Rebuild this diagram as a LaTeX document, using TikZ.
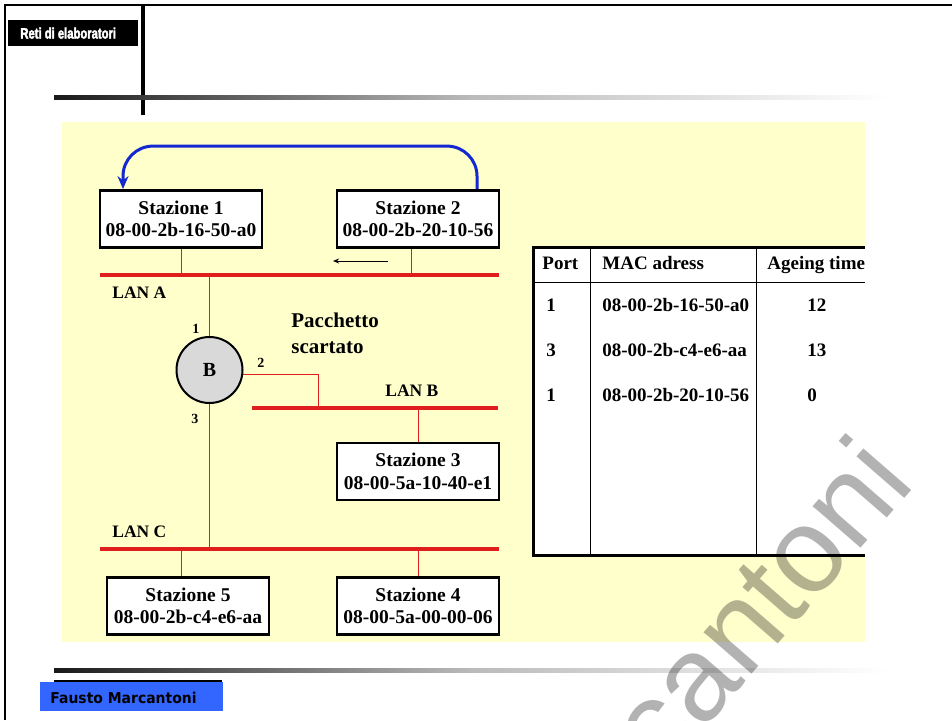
\documentclass[tikz,border=0pt]{standalone}
\usepackage{fontspec}
\setmainfont{Liberation Serif}
\newfontfamily\headfont[FakeStretch=0.75,FakeBold=2.5]{Liberation Sans}
\newfontfamily\footfont[FakeStretch=0.93]{DejaVu Sans}
\newfontfamily\markfont{Liberation Sans}
\usetikzlibrary{arrows.meta}
\definecolor{panel}{RGB}{255,255,204}
\definecolor{lanred}{RGB}{225,30,30}
\definecolor{loopblue}{RGB}{20,40,210}
\definecolor{footblue}{RGB}{51,102,255}

\begin{document}
\begin{tikzpicture}[x=1pt,y=-1pt,line width=0.8pt,
  station/.style={draw,line width=2.8pt,fill=white,minimum width=162pt,
        minimum height=57pt,inner sep=0pt,align=center,
        font=\fontsize{19.5}{22.5}\selectfont\bfseries},
  lan/.style={draw=lanred,line width=3.2pt},
  tap/.style={draw=lanred,line width=0.9pt},
  lbl/.style={anchor=base west,inner sep=0pt,font=\fontsize{17.5}{18}\selectfont\bfseries},
  cell/.style={anchor=base west,inner sep=0pt,font=\fontsize{19}{19}\selectfont\bfseries},
  fade/.style={left color=black!90,right color=white,middle color=black!27}]
\useasboundingbox (0,0) rectangle (952,720);
% ---- slide frame, header and footer bars ----
\draw[line width=2.6pt] (5,720) -- (5,5) -- (952,5);
\fill (8,20) rectangle (138,46);
\node[anchor=base west,inner sep=0pt,text=white,
      font=\headfont\fontsize{15}{15}\selectfont\bfseries] (title) at (20,38.5) {Reti di elaboratori};
\draw[line width=3.5pt] (143,5) -- (143,115);
\shade[fade] (54,95) rectangle (888,99);
\shade[fade] (54,668) rectangle (888,672);
\draw[line width=2.5pt] (54,681) -- (222,681);
\fill[footblue] (40,682) rectangle (223,711);
\node[anchor=base west,inner sep=0pt,
      font=\footfont\fontsize{15}{15}\selectfont\bfseries] (author) at (50,703) {Fausto Marcantoni};
% ---- yellow panel ----
\fill[panel] (62,122) rectangle (865,642);
% ---- LAN segments ----
\coordinate (lanAw) at (100,275); \coordinate (lanAe) at (499,275);
\coordinate (lanBw) at (252,408); \coordinate (lanBe) at (498,408);
\coordinate (lanCw) at (100,549); \coordinate (lanCe) at (499,549);
\foreach \l in {A,B,C} \draw[lan] (lan\l w) -- (lan\l e);
\node[lbl] (labA) at (112,298) {LAN A};
\node[lbl] (labB) at (385,396) {LAN B};
\node[lbl] (labC) at (112,537) {LAN C};
% ---- stations ----
\foreach \n/\x/\y/\mac in {
  1/181/219/08-00-2b-16-50-a0, 2/418/219/08-00-2b-20-10-56,
  3/418/471.5/08-00-5a-10-40-e1, 4/418/606/08-00-5a-00-00-06,
  5/188/606/08-00-2b-c4-e6-aa%
}{
  \node[station] (s\n) at (\x,\y) {Stazione \n\\\mac};
}
\draw[tap] (s1.south) -- (s1.south |- lanAw);
\draw[tap] ([xshift=-7pt]s2.south) -- ([xshift=-7pt]s2.south |- lanAw);
\draw[tap] (s3.north) -- (s3.north |- lanBw);
\draw[tap] (s4.north) -- (s4.north |- lanCw);
\draw[tap] ([xshift=-7pt]s5.north) -- ([xshift=-7pt]s5.north |- lanCw);
% ---- bridge ----
\node[circle,draw,line width=2pt,fill=black!15,minimum size=66pt,inner sep=0pt,
      font=\fontsize{20}{20}\selectfont\bfseries] (br) at (209.5,370) {B};
\draw[tap] (br.north |- lanAw) -- (br.north);
\draw[tap] (br.south) -- (br.south |- lanCw);
\coordinate (tapB) at (318,408);
\draw[tap] (br.-8) -| (tapB);
\foreach \p/\x/\y in {1/192/333, 2/257/367, 3/191/423}
  \node[anchor=base west,inner sep=0pt,font=\fontsize{14}{14}\selectfont\bfseries] (bp\p) at (\x,\y) {\p};
\node[anchor=base west,inner sep=0pt,font=\fontsize{21}{21}\selectfont\bfseries] (drop1) at (291,327) {Pacchetto};
\node[anchor=base west,inner sep=0pt,font=\fontsize{21}{21}\selectfont\bfseries] (drop2) at (291,353) {scartato};
% ---- frame path: station 2 -> station 1 ----
\draw[loopblue,line width=3pt,rounded corners=30pt,-{Stealth[length=13pt,width=11pt]}]
  ([xshift=59pt]s2.north) -- ++(0,-43) -| ([xshift=-58pt]s1.north);
\coordinate (msgS) at (388,261); \coordinate (msgE) at (333,261);
\draw[line width=1pt,-{Stealth[length=6pt,width=5pt]}] (msgS) -- (msgE);
% ---- filtering table ----
\fill[white] (533,247) rectangle (865,555);
\draw (533,282) -- (865,282);
\draw (590,247) -- (590,555);
\draw (756,247) -- (756,555);
\draw[line width=3pt] (865,247) -- (533,247) -- (533,555) -- (865,555);
\node[cell] (hport) at (542,269) {Port};
\node[cell] (hmac) at (602,269) {MAC adress};
\node[cell] (hage) at (767,269) {Ageing time};
\foreach \r/\y/\p/\mac/\age in {
  1/311/1/08-00-2b-16-50-a0/12, 2/356/3/08-00-2b-c4-e6-aa/13,
  3/401/1/08-00-2b-20-10-56/0%
}{
  \node[cell] (tp\r) at (546,\y) {\p};
  \node[cell] (mac\r) at (602,\y) {\mac};
  \node[cell] (age\r) at (807,\y) {\age};
}
% ---- watermark ----
\node[rotate=49,anchor=base east,inner sep=0pt,text=black,text opacity=0.3,
      font=\markfont\fontsize{120}{120}\selectfont] (mark) at (917,484) {Marcantoni};
\end{tikzpicture}
\end{document}
